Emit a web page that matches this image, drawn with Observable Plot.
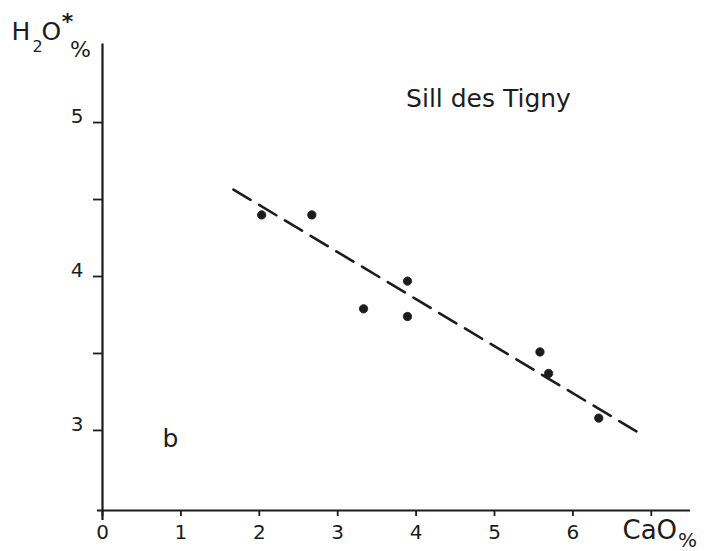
<!DOCTYPE html>
<html>
<head>
<meta charset="utf-8">
<script src="https://cdn.jsdelivr.net/npm/d3@7"></script>
<script src="https://cdn.jsdelivr.net/npm/@observablehq/plot@0.6"></script>
<style>
  html, body { margin: 0; padding: 0; background: #fff; }
  #chart svg { display: block; }
</style>
</head>
<body>
<div id="chart"></div>
<script>
// Samples (CaO %, H2O* %)
const cao = [2.03, 2.67, 3.33, 3.89, 3.89, 5.58, 5.69, 6.33];
const h2o = [4.40, 4.40, 3.79, 3.97, 3.74, 3.51, 3.37, 3.08];

// Dashed trend line end points
const trendX = [1.67, 6.81];
const trendY = [4.565, 2.994];

// Ticks
const xTicks = [0, 1, 2, 3, 4, 5, 6, 7];
const xTickLabels = ["0", "1", "2", "3", "4", "5", "6", ""];
const yTicks = [3, 3.5, 4, 4.5, 5];
const yLabelTicks = [3, 4, 5];
const yTickLabels = ["3", "4", "5"];

const title = "Sill des Tigny";
const panel = "b";

const points = cao.map((x, i) => ({x, y: h2o[i]}));
const trend = trendX.map((x, i) => ({x, y: trendY[i]}));

const ink = "#1c1c1c";
const font = "DejaVu Sans";

const plot = Plot.plot({
  width: 706,
  height: 551,
  marginLeft: 102,
  marginRight: 16,
  marginTop: 42,
  marginBottom: 41,
  style: {fontFamily: font, background: "#fff", color: ink},
  x: {domain: [0, 7.5]},
  y: {domain: [2.48, 5.52]},
  marks: [
    // axis lines
    Plot.ruleY([2.48], {x1: -0.065, x2: 7.5, stroke: ink, strokeWidth: 2.2}),
    Plot.ruleX([0], {y1: 2.415, y2: 5.51, stroke: ink, strokeWidth: 2.2}),
    Plot.axisX({
      ticks: xTicks, tickSize: 6, tickPadding: 8, label: null,
      tickFormat: (d, i) => xTickLabels[i], fontSize: 20, stroke: ink, strokeWidth: 1.8, fill: ink
    }),
    // y tick marks (with half-unit ticks)
    Plot.axisY({
      ticks: yTicks, tickSize: 9, label: null,
      tickFormat: () => "", stroke: ink, strokeWidth: 1.8
    }),
    // y tick labels (integers only)
    Plot.axisY({
      ticks: yLabelTicks, tickSize: 0, tickPadding: 19, label: null, dy: -6,
      tickFormat: (d, i) => yTickLabels[i], fontSize: 20, fill: ink
    }),
    // trend line
    Plot.line(trend, {x: "x", y: "y", stroke: ink, strokeWidth: 2.6, strokeDasharray: "20,10"}),
    // samples
    Plot.dot(points, {x: "x", y: "y", r: 4.2, fill: ink, stroke: ink, strokeWidth: 0.8}),
    // annotations
    Plot.text([title], {frameAnchor: "top-left", textAnchor: "middle", lineAnchor: "middle",
      dx: 386, dy: 56, fontSize: 25, fill: ink}),
    Plot.text([panel], {frameAnchor: "top-left", textAnchor: "middle", lineAnchor: "middle",
      dx: 68, dy: 396, fontSize: 25, fill: ink}),
    Plot.text(["H"], {frameAnchor: "top-left", textAnchor: "start", lineAnchor: "middle",
      dx: -91, dy: -11, fontSize: 25, fill: ink}),
    Plot.text(["2"], {frameAnchor: "top-left", textAnchor: "middle", lineAnchor: "middle",
      dx: -65, dy: 4, fontSize: 16, fill: ink}),
    Plot.text(["O"], {frameAnchor: "top-left", textAnchor: "start", lineAnchor: "middle",
      dx: -61, dy: -11, fontSize: 25, fill: ink}),
    Plot.text(["*"], {frameAnchor: "top-left", textAnchor: "middle", lineAnchor: "middle",
      dx: -35, dy: -21, fontSize: 22, fontWeight: "bold", fill: ink}),
    Plot.text(["%"], {frameAnchor: "top-left", textAnchor: "middle", lineAnchor: "middle",
      dx: -22, dy: 7, fontSize: 22, fill: ink}),
    Plot.text(["CaO"], {frameAnchor: "bottom-right", textAnchor: "start", lineAnchor: "middle",
      dx: -68, dy: 20, fontSize: 26, fill: ink}),
    Plot.text(["%"], {frameAnchor: "bottom-right", textAnchor: "middle", lineAnchor: "middle",
      dx: -3, dy: 30, fontSize: 20, fill: ink})
  ]
});

document.getElementById("chart").appendChild(plot);
</script>
</body>
</html>
